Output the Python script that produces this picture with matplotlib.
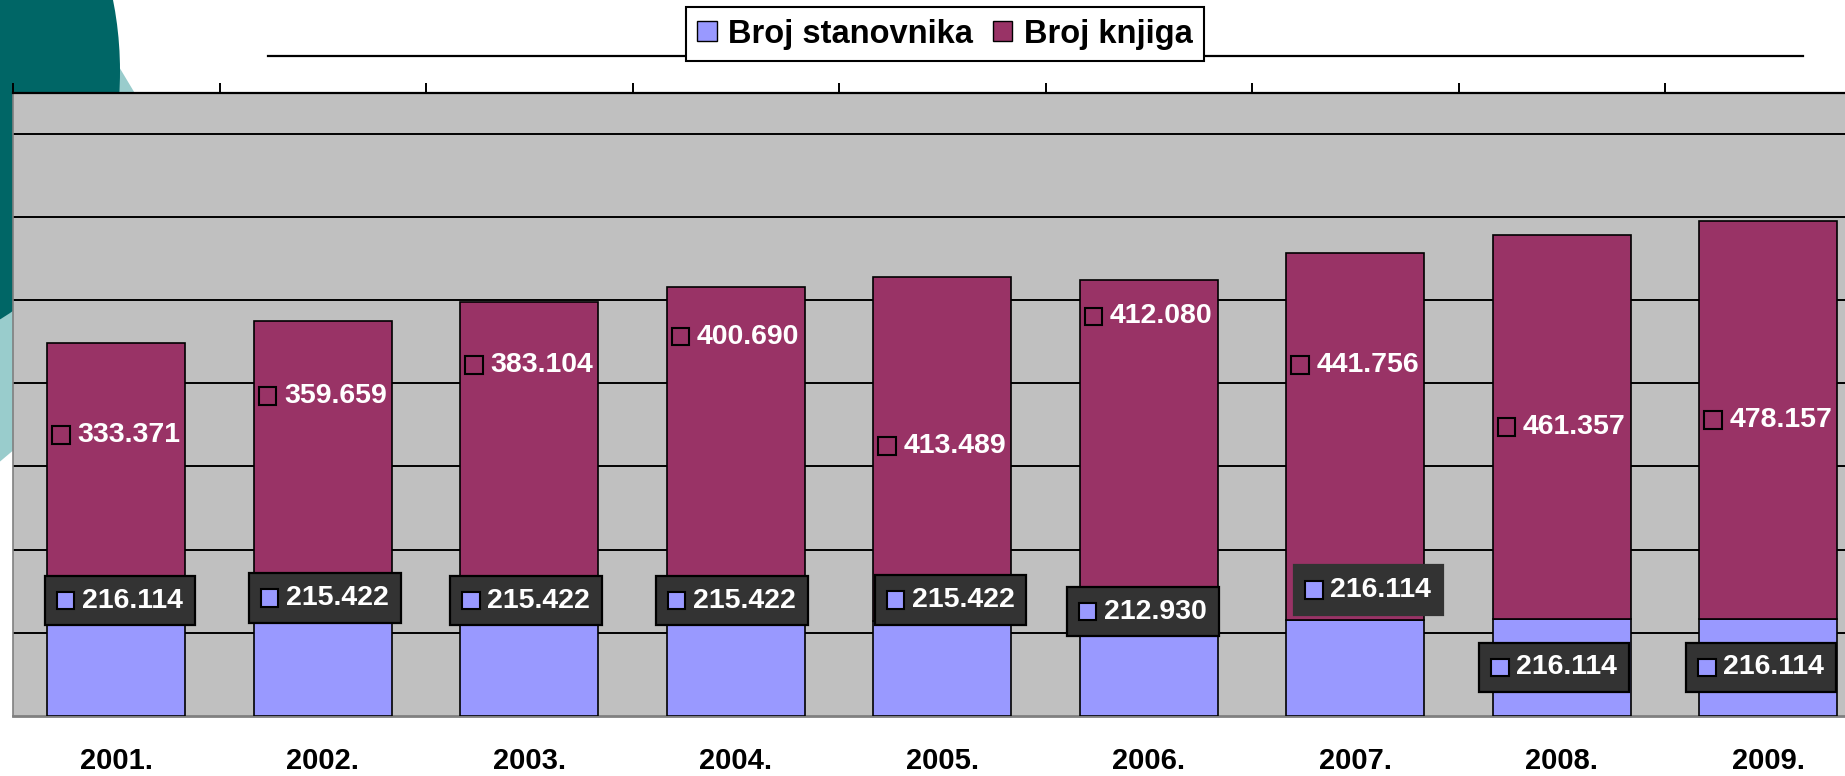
import numpy as np
import matplotlib
matplotlib.use('Agg')
import matplotlib.pyplot as plt
from matplotlib.patches import Patch, Rectangle, Ellipse, Polygon
from matplotlib.offsetbox import AnnotationBbox, HPacker, TextArea, DrawingArea
from matplotlib.ticker import FixedLocator

years = ['2001.', '2002.', '2003.', '2004.', '2005.', '2006.', '2007.', '2008.', '2009.']
# heights as drawn in the picture (grid step = 100 000)
pop_bar = [115000, 115000, 114000, 115000, 114000, 112000, 115000, 116500, 116500]
books = [333371, 359659, 383104, 400690, 413489, 412080, 441756, 461357, 478157]
# label texts as printed on the chart
pop_labels = ['216.114', '215.422', '215.422', '215.422', '215.422', '212.930', '216.114', '216.114', '216.114']
book_labels = ['333.371', '359.659', '383.104', '400.690', '413.489', '412.080', '441.756', '461.357', '478.157']
# label placement (data units)
book_label_y = [337700, 384600, 421900, 456100, 324500, 480200, 421900, 347400, 355800]
pop_label_y = [138800, 141800, 138800, 138800, 139400, 125600, 151400, 58300, 58300]
pop_label_dx = [0.017, 0.01, -0.015, -0.018, 0.04, -0.028, 0.063, -0.037, -0.034]
pop_label_edge = [True, True, True, True, True, True, False, True, True]

BLUE = '#9999FF'
MAROON = '#993366'
FONT = 'Liberation Sans'
W, H = 1845, 776

fig = plt.figure(figsize=(W / 100, H / 100), dpi=100)

# slide background decoration
bg = fig.add_axes([0, 0, 1, 1], zorder=-1)
bg.set_xlim(0, W)
bg.set_ylim(H, 0)
bg.axis('off')
bg.add_patch(Polygon([(-10, -10), (73, -10), (236, 262), (-10, 470)], closed=True,
                     facecolor='#99CCCC', edgecolor='none'))
bg.add_patch(Ellipse((-80, 71), 400, 542, facecolor='#006666', edgecolor='none'))
bg.plot([268, 1803], [56, 56], color='black', lw=1.6)

# plot area (extends slightly past the right edge, like the source)
left, right, top, bottom = 13, 13 + 9 * 206.5, 93, 716
ax = fig.add_axes([left / W, 1 - bottom / H, (right - left) / W, (bottom - top) / H], zorder=1)
ax.set_facecolor('#C0C0C0')

x = np.arange(len(years))
ax.bar(x, pop_bar, width=0.67, color=BLUE, edgecolor='black', lw=1.2, zorder=3)
ax.bar(x, books, bottom=pop_bar, width=0.67, color=MAROON, edgecolor='black', lw=1.2, zorder=3)

ax.set_xlim(-0.5, len(years) - 0.5)
ax.set_ylim(0, (bottom - top) / 83.2 * 100000)
ax.set_yticks(np.arange(100000, 800000, 100000))
ax.tick_params(axis='y', left=False, labelleft=False)
ax.grid(axis='y', color='black', lw=1.4, zorder=1)
ax.set_axisbelow(True)

ax.set_xticks(x)
ax.set_xticklabels(years, fontsize=21, fontweight='bold', family=FONT)
ax.tick_params(axis='x', which='major', length=0, pad=22)
ax.xaxis.set_minor_locator(FixedLocator(np.arange(-0.5, len(years), 1.0)))
ax.tick_params(axis='x', which='minor', top=True, bottom=False, direction='out',
               length=7, width=1.4, color='black')

ax.spines['top'].set_color('black')
ax.spines['top'].set_linewidth(1.6)
ax.spines['left'].set_color('#808080')
ax.spines['left'].set_linewidth(1.2)
ax.spines['bottom'].set_color('#808080')
ax.spines['bottom'].set_linewidth(2)
ax.spines['right'].set_visible(False)


def label_box(text, face):
    da = DrawingArea(12.5, 12.5, 0, 0)
    da.add_artist(Rectangle((0, 0), 12.5, 12.5, facecolor=face, edgecolor='black', lw=1.5))
    ta = TextArea(text, textprops=dict(color='white', fontsize=20.5, fontweight='bold', family=FONT))
    return HPacker(children=[da, ta], sep=5.5, align='center', pad=0)


for i in range(len(years)):
    ab = AnnotationBbox(label_box(book_labels[i], MAROON), (x[i], book_label_y[i]),
                        frameon=False, box_alignment=(0.5, 0.5), zorder=5)
    ax.add_artist(ab)
    ab = AnnotationBbox(label_box(pop_labels[i], BLUE), (x[i] + pop_label_dx[i], pop_label_y[i]),
                        frameon=True, pad=0.85, box_alignment=(0.5, 0.5), zorder=6,
                        bboxprops=dict(facecolor='#333333',
                                       edgecolor='black' if pop_label_edge[i] else '#333333', lw=1.6))
    ax.add_artist(ab)

leg = fig.legend(handles=[Patch(facecolor=BLUE, edgecolor='black'), Patch(facecolor=MAROON, edgecolor='black')],
                 labels=['Broj stanovnika', 'Broj knjiga'], loc='center', bbox_to_anchor=(945 / W, 1 - 34 / H),
                 ncol=2, frameon=True, fancybox=False, edgecolor='black', framealpha=1,
                 handlelength=0.6, handleheight=0.6, handletextpad=0.35, columnspacing=0.6,
                 borderpad=0.35, prop=dict(family=FONT, weight='bold', size=23.5))
leg.get_frame().set_linewidth(1.5)

fig.savefig('out.png', dpi=100)
